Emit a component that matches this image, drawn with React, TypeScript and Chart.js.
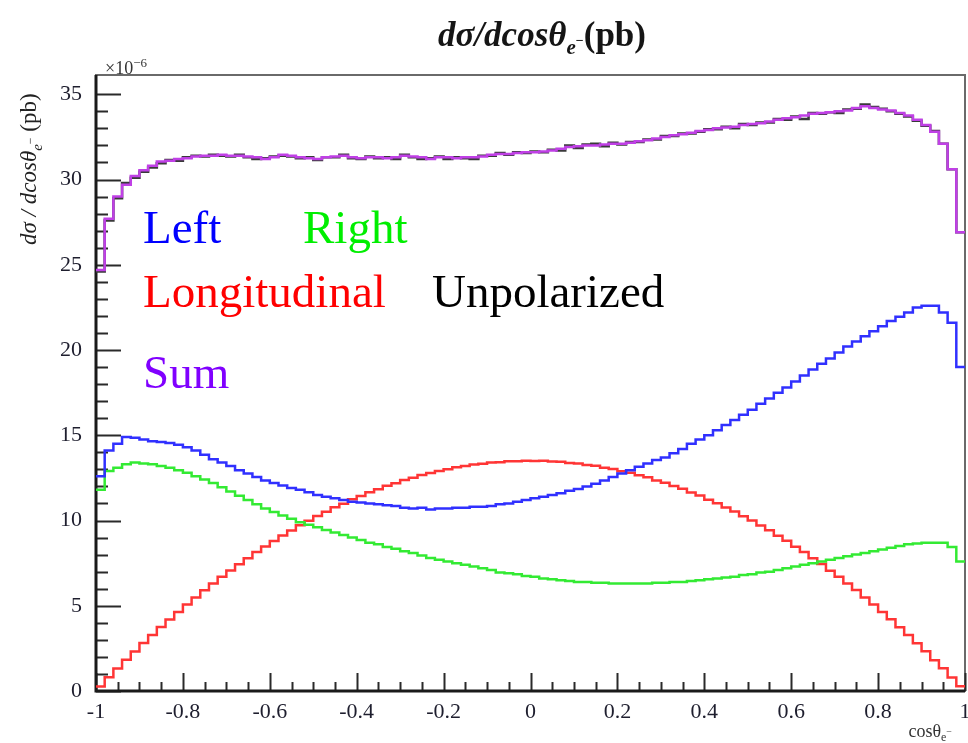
import React, { useEffect, useRef } from 'react';
import { Chart, registerables } from 'chart.js';

Chart.register(...registerables);

// Histogram range: 100 bins in cos(theta) from -1 to 1
const xMin = -1;
const xMax = 1;
const nBins = 100;
const yMax = 36.13;
const yTickValues = [0, 5, 10, 15, 20, 25, 30, 35];
const xTickValues = [-1, -0.8, -0.6, -0.4, -0.2, 0, 0.2, 0.4, 0.6, 0.8, 1];

// Differential cross section per polarization (units of 1e-6 pb)
const sumPol = [
  24.7, 27.7, 29.0, 29.7, 30.2, 30.55, 30.8, 31.05, 31.1, 31.2,
  31.25, 31.35, 31.4, 31.4, 31.45, 31.4, 31.4, 31.35, 31.3, 31.2,
  31.3, 31.45, 31.4, 31.3, 31.25, 31.2, 31.3, 31.35, 31.4, 31.3,
  31.25, 31.3, 31.3, 31.25, 31.3, 31.4, 31.35, 31.3, 31.2, 31.3,
  31.3, 31.25, 31.3, 31.3, 31.35, 31.45, 31.5, 31.5, 31.55, 31.6,
  31.6, 31.65, 31.7, 31.8, 31.9, 31.95, 32.0, 32.0, 32.05, 32.1,
  32.1, 32.15, 32.25, 32.3, 32.4, 32.5, 32.6, 32.65, 32.75, 32.85,
  32.9, 33.0, 33.05, 33.1, 33.2, 33.25, 33.3, 33.4, 33.5, 33.6,
  33.65, 33.75, 33.85, 33.9, 33.95, 34.0, 34.05, 34.2, 34.3, 34.2,
  34.1, 34.05, 33.9, 33.75, 33.5, 33.2, 32.8, 32.1, 30.6, 26.9,
];

const unpolarized = [
  24.6, 27.6, 28.9, 29.8, 30.1, 30.45, 30.7, 30.95, 31.15, 31.1,
  31.3, 31.4, 31.35, 31.45, 31.4, 31.35, 31.45, 31.3, 31.2, 31.25,
  31.35, 31.4, 31.35, 31.25, 31.3, 31.15, 31.3, 31.3, 31.45, 31.25,
  31.2, 31.35, 31.25, 31.3, 31.2, 31.45, 31.3, 31.2, 31.25, 31.35,
  31.2, 31.3, 31.25, 31.2, 31.4, 31.4, 31.55, 31.45, 31.6, 31.55,
  31.65, 31.6, 31.75, 31.7, 32.0, 31.85, 32.05, 32.1, 31.95, 32.15,
  32.05, 32.2, 32.2, 32.35, 32.35, 32.55, 32.55, 32.7, 32.7, 32.8,
  32.95, 32.95, 33.1, 33.0, 33.25, 33.2, 33.35, 33.35, 33.55, 33.5,
  33.7, 33.55, 33.9, 33.85, 33.95, 33.9, 34.1, 34.15, 34.4, 34.25,
  34.15, 34.0, 33.85, 33.7, 33.45, 33.15, 32.85, 32.1, 30.6, 26.9,
];

const leftPol = [
  12.6, 14.1, 14.5, 14.9, 14.85, 14.75, 14.65, 14.6, 14.55, 14.45,
  14.3, 14.1, 13.85, 13.6, 13.4, 13.2, 12.95, 12.75, 12.55, 12.35,
  12.2, 12.05, 11.9, 11.8, 11.65, 11.5, 11.4, 11.3, 11.2, 11.1,
  11.05, 11.0, 10.95, 10.9, 10.85, 10.75, 10.7, 10.75, 10.65, 10.7,
  10.7, 10.75, 10.75, 10.8, 10.8, 10.85, 10.95, 11.0, 11.1, 11.2,
  11.3, 11.4, 11.5, 11.6, 11.75, 11.85, 12.0, 12.15, 12.35, 12.55,
  12.75, 12.95, 13.15, 13.35, 13.55, 13.7, 13.95, 14.2, 14.5, 14.75,
  15.0, 15.3, 15.6, 15.9, 16.2, 16.5, 16.85, 17.15, 17.5, 17.8,
  18.15, 18.5, 18.85, 19.2, 19.5, 19.85, 20.2, 20.5, 20.8, 21.1,
  21.4, 21.7, 21.95, 22.2, 22.5, 22.6, 22.6, 22.2, 21.6, 19.0,
];

const rightPol = [
  11.8, 12.9, 13.1, 13.3, 13.4, 13.35, 13.3, 13.2, 13.1, 12.95,
  12.8, 12.6, 12.4, 12.2, 11.95, 11.7, 11.45, 11.2, 10.95, 10.7,
  10.5, 10.3, 10.1, 9.9, 9.75, 9.6, 9.45, 9.3, 9.15, 9.0,
  8.85, 8.7, 8.6, 8.45, 8.35, 8.2, 8.1, 7.95, 7.8, 7.7,
  7.6, 7.5, 7.4, 7.3, 7.2, 7.1, 6.95, 6.9, 6.85, 6.75,
  6.7, 6.6, 6.55, 6.5, 6.45, 6.4, 6.4, 6.35, 6.35, 6.3,
  6.3, 6.3, 6.3, 6.3, 6.35, 6.35, 6.4, 6.4, 6.45, 6.5,
  6.55, 6.6, 6.65, 6.7, 6.8, 6.85, 6.95, 7.0, 7.1, 7.2,
  7.3, 7.4, 7.5, 7.6, 7.7, 7.8, 7.9, 8.0, 8.1, 8.2,
  8.3, 8.4, 8.5, 8.6, 8.65, 8.7, 8.7, 8.7, 8.45, 7.6,
];

const longPol = [
  0.27, 0.8, 1.32, 1.83, 2.31, 2.81, 3.29, 3.75, 4.2, 4.64,
  5.08, 5.49, 5.91, 6.3, 6.7, 7.07, 7.44, 7.79, 8.15, 8.47,
  8.8, 9.12, 9.41, 9.72, 9.98, 10.27, 10.51, 10.78, 10.99, 11.24,
  11.44, 11.66, 11.84, 12.04, 12.19, 12.37, 12.51, 12.67, 12.78, 12.91,
  13.0, 13.12, 13.19, 13.28, 13.33, 13.4, 13.42, 13.48, 13.48, 13.51,
  13.49, 13.5, 13.46, 13.44, 13.38, 13.35, 13.26, 13.21, 13.1, 13.02,
  12.89, 12.8, 12.65, 12.53, 12.35, 12.21, 12.02, 11.86, 11.64, 11.46,
  11.22, 11.01, 10.76, 10.53, 10.25, 10.0, 9.7, 9.43, 9.1, 8.81,
  8.46, 8.15, 7.78, 7.45, 7.06, 6.7, 6.3, 5.92, 5.48, 5.08,
  4.63, 4.21, 3.74, 3.29, 2.8, 2.33, 1.81, 1.33, 0.79, 0.28,
];

const binWidth = (xMax - xMin) / nBins;
const binCenters = Array.from({ length: nBins }, (_, i) => xMin + (i + 0.5) * binWidth);

// Outline of a histogram: one point per bin centre, padded to the range edges,
// drawn with mid-point steps so the steps fall on the bin edges.
function histPoints(values: number[]) {
  const pts = values.map((v, i) => ({ x: binCenters[i], y: v }));
  return [{ x: xMin, y: values[0] }, ...pts, { x: xMax, y: values[values.length - 1] }];
}

type Run = { text: string; font: string; dy?: number };

function runsWidth(ctx: CanvasRenderingContext2D, runs: Run[]) {
  let w = 0;
  for (const r of runs) {
    ctx.font = r.font;
    w += ctx.measureText(r.text).width;
  }
  return w;
}

function drawRuns(ctx: CanvasRenderingContext2D, runs: Run[], x: number, y: number) {
  let cx = x;
  ctx.textAlign = 'left';
  ctx.textBaseline = 'alphabetic';
  for (const r of runs) {
    ctx.font = r.font;
    ctx.fillText(r.text, cx, y + (r.dy || 0));
    cx += ctx.measureText(r.text).width;
  }
}

const SERIF = '"Liberation Serif", "DejaVu Serif", serif';

// ROOT-style frame with inward ticks
const frameTicks = {
  id: 'frameTicks',
  beforeDatasetsDraw(chart: any) {
    const { ctx, chartArea: a, scales } = chart;
    const xs = scales.x;
    const ys = scales.y;
    ctx.save();
    ctx.strokeStyle = '#6a6a6a';
    ctx.lineWidth = 2;
    ctx.strokeRect(a.left, a.top, a.right - a.left, a.bottom - a.top);

    ctx.strokeStyle = '#2a2a2a';
    ctx.lineWidth = 2;
    ctx.beginPath();
    for (let v = 0; v <= 35; v += 1) {
      const py = Math.round(ys.getPixelForValue(v)) + 0.5;
      const len = v % 5 === 0 ? 25 : 12;
      ctx.moveTo(a.left, py);
      ctx.lineTo(a.left + len, py);
    }
    for (let k = 0; k <= 40; k++) {
      const v = xMin + k * 0.05;
      const px = Math.round(xs.getPixelForValue(v)) + 0.5;
      const len = k % 4 === 0 ? 18 : 9;
      ctx.moveTo(px, a.bottom);
      ctx.lineTo(px, a.bottom - len);
    }
    ctx.stroke();

    ctx.strokeStyle = '#1a1a1a';
    ctx.lineWidth = 3;
    ctx.beginPath();
    ctx.moveTo(a.left, a.top);
    ctx.lineTo(a.left, a.bottom);
    ctx.lineTo(a.right, a.bottom);
    ctx.stroke();
    ctx.restore();
  },
  afterDraw(chart: any) {
    const { ctx, chartArea: a } = chart;
    ctx.save();
    ctx.fillStyle = '#151515';

    // Title
    const title: Run[] = [
      { text: 'd\u03c3/dcos\u03b8', font: `italic bold 35px ${SERIF}` },
      { text: 'e', font: `italic bold 21px ${SERIF}`, dy: 8 },
      { text: '\u2212', font: `bold 14px ${SERIF}`, dy: -1 },
      { text: '(pb)', font: `bold 35px ${SERIF}` },
    ];
    drawRuns(ctx, title, 542 - runsWidth(ctx, title) / 2, 46);

    // Exponent of the y axis
    ctx.fillStyle = '#333';
    drawRuns(ctx, [
      { text: '\u00d710', font: `18px ${SERIF}` },
      { text: '\u22126', font: `13px ${SERIF}`, dy: -7 },
    ], a.left + 9, a.top - 1);

    // Y axis title, read bottom to top
    ctx.fillStyle = '#222';
    ctx.save();
    ctx.translate(36, 245);
    ctx.rotate(-Math.PI / 2);
    drawRuns(ctx, [
      { text: 'd\u03c3 / dcos\u03b8', font: `italic 23px ${SERIF}` },
      { text: 'e', font: `italic 15px ${SERIF}`, dy: 6 },
      { text: '\u2212', font: `12px ${SERIF}`, dy: -2 },
      { text: ' (pb)', font: `23px ${SERIF}` },
    ], 0, 0);
    ctx.restore();

    // X axis title
    ctx.fillStyle = '#333';
    const xTitle: Run[] = [
      { text: 'cos\u03b8', font: `18px ${SERIF}` },
      { text: 'e', font: `12px ${SERIF}`, dy: 4 },
      { text: '\u2212', font: `10px ${SERIF}`, dy: -2 },
    ];
    drawRuns(ctx, xTitle, 952 - runsWidth(ctx, xTitle), 737);

    // Series labels
    ctx.font = `47px ${SERIF}`;
    ctx.textAlign = 'left';
    ctx.textBaseline = 'alphabetic';
    ctx.fillStyle = '#0000ff';
    ctx.fillText('Left', 143, 243);
    ctx.fillStyle = '#00ee00';
    ctx.fillText('Right', 303, 243);
    ctx.fillStyle = '#ff0000';
    ctx.fillText('Longitudinal', 143, 307);
    ctx.fillStyle = '#000000';
    ctx.fillText('Unpolarized', 432, 307);
    ctx.fillStyle = '#8000ff';
    ctx.fillText('Sum', 143, 388);
    ctx.restore();
  },
};

function series(label: string, values: number[], color: string, order: number) {
  return {
    label,
    data: histPoints(values),
    borderColor: color,
    backgroundColor: color,
    borderWidth: 2.5,
    pointRadius: 0,
    stepped: 'middle' as const,
    fill: false,
    order,
  };
}

export default function App() {
  const canvasRef = useRef<HTMLCanvasElement>(null);

  useEffect(() => {
    const canvas = canvasRef.current;
    if (!canvas) return;
    const chart = new Chart(canvas, {
      type: 'line',
      data: {
        datasets: [
          series('Sum', sumPol, '#c040e6', 0),
          series('Unpolarized', unpolarized, '#3a3a3a', 1),
          series('Left', leftPol, '#3030ff', 2),
          series('Right', rightPol, '#33ea33', 3),
          series('Longitudinal', longPol, '#ff3535', 4),
        ],
      },
      options: {
        responsive: false,
        animation: false,
        devicePixelRatio: 1,
        layout: { padding: { top: 75, left: 0, right: 3, bottom: 0 } },
        plugins: {
          legend: { display: false },
          tooltip: { enabled: false },
          title: { display: false },
        },
        scales: {
          x: {
            type: 'linear',
            min: xMin,
            max: xMax,
            grid: { display: false, drawTicks: false },
            border: { display: false },
            afterBuildTicks: (scale: any) => {
              scale.ticks = xTickValues.map((v) => ({ value: v }));
            },
            afterFit: (scale: any) => {
              scale.height = 52;
              scale.paddingLeft = 0;
              scale.paddingRight = 0;
            },
            ticks: {
              padding: 8,
              color: '#1e1e2e',
              font: { family: SERIF, size: 22 },
              maxRotation: 0,
              autoSkip: false,
              callback: (v: any) => String(Number(Number(v).toFixed(2))),
            },
          },
          y: {
            type: 'linear',
            min: 0,
            max: yMax,
            grid: { display: false, drawTicks: false },
            border: { display: false },
            afterBuildTicks: (scale: any) => {
              scale.ticks = yTickValues.map((v) => ({ value: v }));
            },
            afterFit: (scale: any) => {
              scale.width = 96;
              scale.paddingTop = 0;
              scale.paddingBottom = 0;
            },
            ticks: {
              padding: 14,
              color: '#1e1e2e',
              font: { family: SERIF, size: 22 },
              autoSkip: false,
              callback: (v: any) => String(v),
            },
          },
        },
      },
      plugins: [frameTicks],
    });
    return () => chart.destroy();
  }, []);

  return (
    <div style={{ position: 'fixed', left: 0, top: 0, width: 968, height: 743, background: '#fff' }}>
      <canvas ref={canvasRef} width={968} height={743} style={{ width: 968, height: 743, display: 'block' }} />
    </div>
  );
}
